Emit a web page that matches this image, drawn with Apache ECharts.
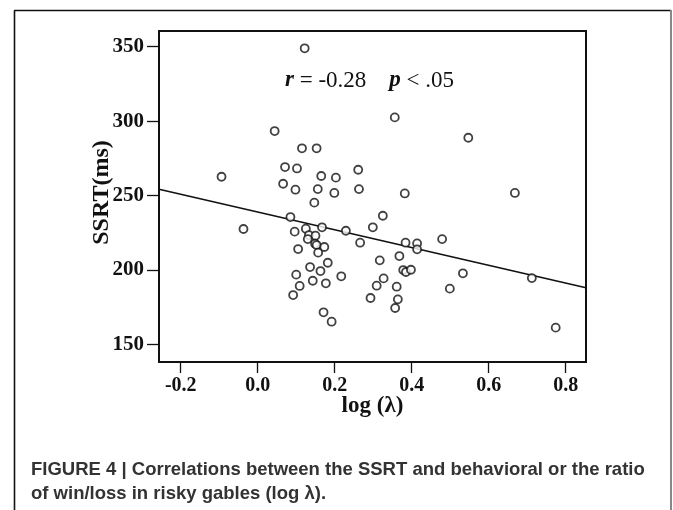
<!DOCTYPE html>
<html>
<head>
<meta charset="utf-8">
<script src="https://cdn.jsdelivr.net/npm/echarts@6/dist/echarts.min.js"></script>
<style>
html,body{margin:0;padding:0;background:#fff;}
#c{width:673px;height:510px;}
</style>
</head>
<body>
<div id="c"></div>
<script>
// log(lambda) values
const xVals = [0.122,0.356,0.044,0.547,0.115,0.153,0.071,0.102,0.261,-0.094,
  0.165,0.203,0.066,0.098,0.156,0.263,0.199,0.382,0.668,0.147,
  0.085,0.325,-0.037,0.299,0.125,0.167,0.229,0.096,0.133,0.150,
  0.130,0.149,0.153,0.266,0.384,0.414,0.479,0.414,0.173,0.105,
  0.157,0.368,0.317,0.182,0.136,0.163,0.378,0.385,0.398,0.533,
  0.712,0.100,0.217,0.143,0.177,0.327,0.109,0.309,0.361,0.499,
  0.092,0.293,0.364,0.357,0.171,0.192,0.774];
// SSRT (ms) values
const yVals = [348.9,302.5,293.3,288.8,281.7,281.7,269.1,268.2,267.3,262.6,
  263.1,262.0,257.9,253.9,254.3,254.3,251.7,251.4,251.7,245.2,
  235.5,236.4,227.5,228.6,227.7,228.6,226.3,225.7,223.4,223.0,
  220.7,217.6,216.7,218.3,218.3,217.8,220.7,213.8,215.4,214.0,
  211.6,209.3,206.4,204.8,201.9,199.2,199.9,198.6,200.1,197.7,
  194.5,196.8,195.7,192.7,191.0,194.3,189.2,189.4,188.7,187.4,
  183.1,181.1,180.2,174.4,171.5,165.2,161.2];
// regression line end points
const fitX = [-0.2564, 0.8527];
const fitY = [254.2, 188.0];
// tick labels
const xTicks = [-0.2, 0.0, 0.2, 0.4, 0.6, 0.8];
const yTicks = [150, 200, 250, 300, 350];

const serif = '"Liberation Serif","Times New Roman",serif';
const sans = '"Liberation Sans",Arial,sans-serif';
const points = xVals.map((x, i) => [x, yVals[i]]);
const fitLine = fitX.map((x, i) => [x, fitY[i]]);

const chart = echarts.init(document.getElementById('c'), null, {renderer: 'canvas'});
chart.setOption({
  animation: false,
  backgroundColor: '#fff',
  grid: {left: 159, top: 31, width: 427, height: 331, show: true,
    borderColor: '#111', borderWidth: 2, backgroundColor: 'transparent', containLabel: false},
  xAxis: {
    type: 'value', min: -0.2564, max: 0.8527,
    name: 'log (λ)', nameLocation: 'middle', nameGap: 33, nameMoveOverlap: false,
    nameTextStyle: {fontFamily: serif, fontWeight: 'bold', fontSize: 23, color: '#111'},
    axisLine: {show: false, onZero: false},
    splitLine: {show: false},
    axisTick: {show: true, inside: false, length: 11, lineStyle: {color: '#111', width: 1.3}, customValues: xTicks},
    axisLabel: {show: true, margin: 14, customValues: xTicks, fontFamily: serif, fontWeight: 'bold',
      fontSize: 20, color: '#111', formatter: v => Number(v).toFixed(1)}
  },
  yAxis: {
    type: 'value', min: 138.1, max: 360.55,
    name: 'SSRT(ms)', nameLocation: 'middle', nameGap: 45, nameRotate: 90, nameMoveOverlap: false,
    nameTextStyle: {fontFamily: serif, fontWeight: 'bold', fontSize: 24, color: '#111', padding: [0, 0, 0, 8]},
    axisLine: {show: false, onZero: false},
    splitLine: {show: false},
    axisTick: {show: true, inside: false, length: 12, lineStyle: {color: '#111', width: 1.3}, customValues: yTicks},
    axisLabel: {show: true, margin: 15, customValues: yTicks, fontFamily: serif, fontWeight: 'bold',
      fontSize: 21, color: '#111', formatter: v => String(Math.round(v))}
  },
  series: [
    {type: 'line', data: fitLine, showSymbol: false, symbol: 'none',
      lineStyle: {color: '#111', width: 1.6}, z: 2, silent: true},
    {type: 'scatter', data: points, symbol: 'circle', symbolSize: 8,
      itemStyle: {color: '#fff', borderColor: '#111', borderWidth: 1.8}, z: 3}
  ],
  graphic: [
    {type: 'line', shape: {x1: 14.5, y1: 10.5, x2: 14.5, y2: 520}, style: {stroke: '#111', lineWidth: 1.6}},
    {type: 'line', shape: {x1: 14, y1: 10.5, x2: 671, y2: 10.5}, style: {stroke: '#111', lineWidth: 1.6}},
    {type: 'line', shape: {x1: 671, y1: 10, x2: 671, y2: 520}, style: {stroke: '#888', lineWidth: 2}},
    {type: 'text', left: 285, top: 69, z: 10,
      style: {
        text: '{b|r} = -0.28    {b|p} < .05',
        fontFamily: serif, fontSize: 23, fill: '#111',
        rich: {b: {fontFamily: serif, fontSize: 23, fontStyle: 'italic', fontWeight: 'bold', fill: '#111'}}
      }},
    {type: 'text', left: 31, top: 460, z: 10,
      style: {text: 'FIGURE 4 | Correlations between the SSRT and behavioral or the ratio',
        fontFamily: sans, fontWeight: 'bold', fontSize: 18.5, fill: '#333'}},
    {type: 'text', left: 31, top: 484, z: 10,
      style: {text: 'of win/loss in risky gables (log λ).',
        fontFamily: sans, fontWeight: 'bold', fontSize: 18.5, fill: '#333'}}
  ]
});
</script>
</body>
</html>
